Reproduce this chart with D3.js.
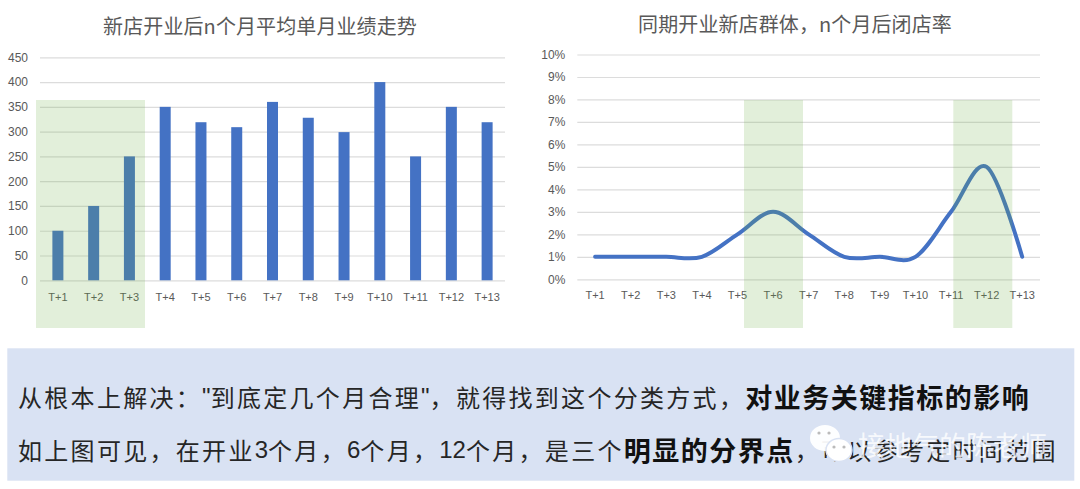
<!DOCTYPE html>
<html>
<head>
<meta charset="utf-8">
<script src="https://cdnjs.cloudflare.com/ajax/libs/d3/7.8.5/d3.min.js"></script>
<style>
  html, body { margin: 0; padding: 0; background: #fff; }
  svg { display: block; }
</style>
</head>
<body>
<div id="chart"></div>
<script>
const months = ["T+1","T+2","T+3","T+4","T+5","T+6","T+7","T+8","T+9","T+10","T+11","T+12","T+13"];
const salesValues = [100,150,250,350,319,309,360,328,299,400,250,350,319];
const closeRates = [1,1,1,1,2,3,2,1,1,1,3,5,1];
const salesTicks = [0,50,100,150,200,250,300,350,400,450];
const rateTicks = [0,1,2,3,4,5,6,7,8,9,10];

const titleLeft = "新店开业后n个月平均单月业绩走势";
const titleRight = "同期开业新店群体，n个月后闭店率";
const noteLine1 = [["从根本上解决：\"到底定几个月合理\"，就得找到这个分类方式，", false], ["对业务关键指标的影响", true]];
const noteLine2 = [["如上图可见，在开业3个月，6个月，12个月，是三个", false], ["明显的分界点", true], ["，可以参考定时间范围", false]];
const watermark = "接地气的陈老师";

let width = 1080;
let height = 489;
let cjk = "'Noto Sans CJK SC', 'Noto Sans', sans-serif";
let latin = "'Liberation Sans', Arial, sans-serif";
let gray = "#595959";

let svg = d3.select("#chart").append("svg")
  .attr("width", width)
  .attr("height", height)
  .attr("viewBox", "0 0 " + width + " " + height);

// shared axis drawing, gridlines come from the y axis ticks
function drawAxes(g, x, y, ticks, fmt, left, right, labelY) {
  let yAxis = d3.axisLeft(y).tickValues(ticks).tickFormat(fmt).tickSize(-(right - left)).tickPadding(12);
  let ya = g.append("g").attr("transform", "translate(" + left + ",0)").call(yAxis);
  ya.select(".domain").remove();
  ya.selectAll("line").attr("stroke", "#dcdcdc").attr("stroke-width", 1.2);
  ya.selectAll("text").attr("fill", gray).style("font", "12px " + latin);

  let xAxis = d3.axisBottom(x).tickSize(0).tickPadding(labelY);
  let xa = g.append("g").attr("transform", "translate(0," + y(0) + ")").call(xAxis);
  xa.select(".domain").remove();
  xa.selectAll("text").attr("fill", gray).style("font", "11px " + latin);
}

function drawTitle(text, cx, cy) {
  svg.append("text")
    .attr("x", cx)
    .attr("y", cy)
    .attr("text-anchor", "middle")
    .attr("dominant-baseline", "central")
    .attr("fill", gray)
    .style("font-family", cjk)
    .style("font-size", "20px")
    .style("letter-spacing", "0.1px")
    .text(text);
}

function drawHighlight(x0, x1) {
  svg.append("rect")
    .attr("x", x0)
    .attr("y", 100)
    .attr("width", x1 - x0)
    .attr("height", 228)
    .attr("fill", "#70AD47")
    .attr("opacity", 0.2);
}

// left chart: bars
let barX = d3.scaleBand().domain(months).range([40, 505]);
let barY = d3.scaleLinear().domain([0, 450]).range([280.3, 57.3]);
let barG = svg.append("g");
drawAxes(barG, barX, barY, salesTicks, d => d, 40, 505, 13);

barG.selectAll("rect.bar")
  .data(salesValues)
  .enter().append("rect")
  .attr("class", "bar")
  .attr("x", (d, i) => barX(months[i]) + barX.bandwidth() / 2 - 5.5)
  .attr("y", d => barY(d))
  .attr("width", 11)
  .attr("height", d => barY(0) - barY(d))
  .attr("fill", "#4472C4");

drawTitle(titleLeft, 260, 25);

// right chart: smoothed line
let lineX = d3.scaleBand().domain(months).range([577.3, 1040]);
let lineY = d3.scaleLinear().domain([0, 10]).range([279.3, 54.5]);
let lineG = svg.append("g");
drawAxes(lineG, lineX, lineY, rateTicks, d => d + "%", 577.3, 1040, 12);

let line = d3.line()
  .x((d, i) => lineX(months[i]) + lineX.bandwidth() / 2)
  .y(d => lineY(d))
  .curve(d3.curveCardinal.tension(0));

lineG.append("path")
  .datum(closeRates)
  .attr("d", line)
  .attr("fill", "none")
  .attr("stroke", "#4472C4")
  .attr("stroke-width", 4)
  .attr("stroke-linecap", "round");

drawTitle(titleRight, 795, 23);

// green boxes sit on top of the charts, they tint whatever is under them
drawHighlight(36, 145);
drawHighlight(744, 803);
drawHighlight(953.3, 1012.3);

// note panel
svg.append("rect")
  .attr("x", 7.3)
  .attr("y", 348.3)
  .attr("width", 1067)
  .attr("height", 132.4)
  .attr("fill", "#D9E2F3");

// digits and quotes are set in the latin font with no tracking, the rest is tracked out
function drawNote(parts, y) {
  let t = svg.append("text")
    .attr("x", 18)
    .attr("y", y)
    .attr("dominant-baseline", "central")
    .attr("fill", "#262626")
    .style("font-family", cjk);
  parts.forEach(p => {
    if (p[1]) {
      t.append("tspan")
        .attr("font-weight", 700)
        .attr("fill", "#111")
        .style("font-size", "27px")
        .style("letter-spacing", "1.5px")
        .text(p[0]);
      return;
    }
    p[0].split(/([0-9"]+)/).forEach(s => {
      if (!s) return;
      let ascii = /^[0-9"]+$/.test(s);
      t.append("tspan")
        .style("font-family", ascii ? latin : cjk)
        .style("font-size", "24px")
        .style("letter-spacing", ascii ? "0px" : "2.3px")
        .text(s);
    });
  });
}

drawNote(noteLine1, 396);
drawNote(noteLine2, 449);

// wechat watermark
let wm = svg.append("g").attr("fill", "#fff");
wm.append("ellipse").attr("cx", 825).attr("cy", 438).attr("rx", 15).attr("ry", 13).attr("opacity", 0.95);
wm.append("ellipse").attr("cx", 839).attr("cy", 450).attr("rx", 13).attr("ry", 11.5).attr("stroke", "#D9E2F3").attr("stroke-width", 1.5);
wm.selectAll("circle.eye")
  .data([[819, 433], [829, 433], [834, 447], [844, 447]])
  .enter().append("circle")
  .attr("class", "eye")
  .attr("cx", d => d[0])
  .attr("cy", d => d[1])
  .attr("r", 1.6)
  .attr("fill", "#bbb");
wm.append("text")
  .attr("x", 858)
  .attr("y", 444)
  .attr("dominant-baseline", "central")
  .attr("fill", "#fff")
  .attr("opacity", 0.8)
  .style("font-family", cjk)
  .style("font-size", "27px")
  .text(watermark);
</script>
</body>
</html>
